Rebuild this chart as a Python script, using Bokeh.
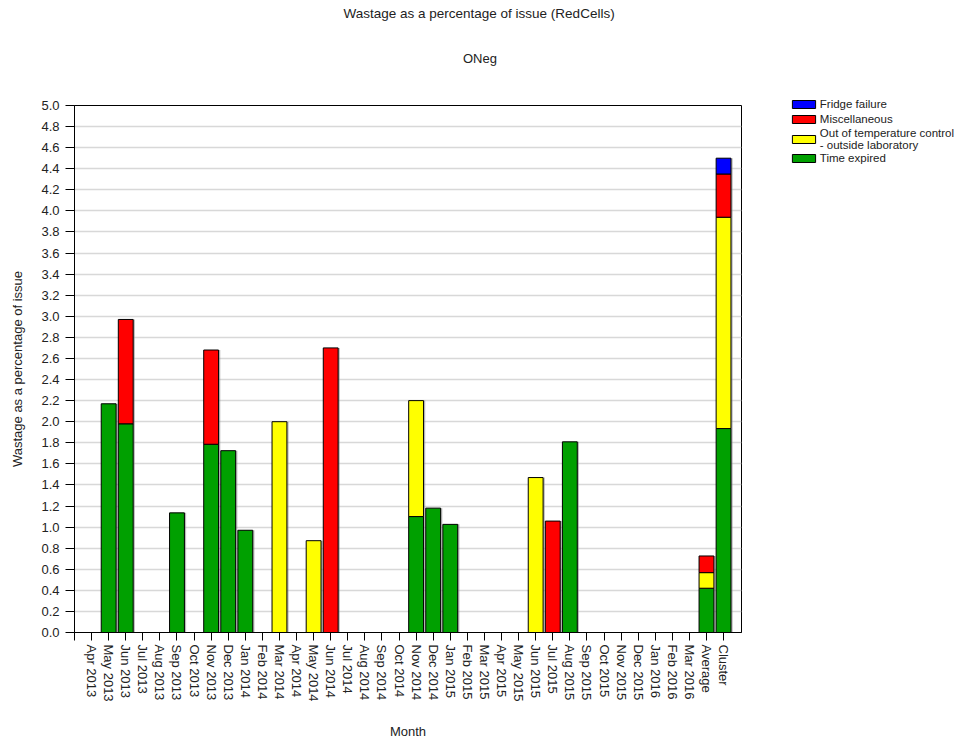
import math
from bokeh.plotting import figure
from bokeh.layouts import row, column
from bokeh.models import (Range1d, FixedTicker, NumeralTickFormatter, Legend,
                          LegendItem, Title, ColumnDataSource)
from bokeh.transform import dodge, stack
from bokeh.embed import file_html
from bokeh.resources import INLINE

categories = ["Apr 2013", "May 2013", "Jun 2013", "Jul 2013", "Aug 2013", "Sep 2013",
              "Oct 2013", "Nov 2013", "Dec 2013", "Jan 2014", "Feb 2014", "Mar 2014",
              "Apr 2014", "May 2014", "Jun 2014", "Jul 2014", "Aug 2014", "Sep 2014",
              "Oct 2014", "Nov 2014", "Dec 2014", "Jan 2015", "Feb 2015", "Mar 2015",
              "Apr 2015", "May 2015", "Jun 2015", "Jul 2015", "Aug 2015", "Sep 2015",
              "Oct 2015", "Nov 2015", "Dec 2015", "Jan 2016", "Feb 2016", "Mar 2016",
              "Average", "Cluster"]

time_expired = [0, 2.17, 1.98, 0, 0, 1.135, 0, 1.786, 1.725, 0.97, 0, 0,
                0, 0, 0, 0, 0, 0, 0, 1.10, 1.18, 1.026, 0, 0,
                0, 0, 0, 0, 1.809, 0, 0, 0, 0, 0, 0, 0,
                0.42, 1.935]
out_of_temp = [0, 0, 0, 0, 0, 0, 0, 0, 0, 0, 0, 2.0,
               0, 0.871, 0, 0, 0, 0, 0, 1.10, 0, 0, 0, 0,
               0, 0, 1.47, 0, 0, 0, 0, 0, 0, 0, 0, 0,
               0.148, 2.005]
miscellaneous = [0, 0, 0.99, 0, 0, 0, 0, 0.894, 0, 0, 0, 0,
                 0, 0, 2.70, 0, 0, 0, 0, 0, 0, 0, 0, 0,
                 0, 0, 0, 1.057, 0, 0, 0, 0, 0, 0, 0, 0,
                 0.158, 0.41]
fridge_failure = [0] * 37 + [0.15]

series_names = ["Time expired", "Out of temperature control\n- outside laboratory",
                "Miscellaneous", "Fridge failure"]
series_keys = ["te", "ot", "mi", "ff"]
series_colors = ["#00A000", "#FFFF00", "#FF0000", "#0000FF"]

FONT = "Liberation Sans"
TEXT_COLOR = "#222222"

MAIN_W, LEG_W, H = 775, 180, 742
TOP, BOTTOM = 105, 110

xs = list(range(len(categories)))
data = dict(x=xs, te=time_expired, ot=out_of_temp, mi=miscellaneous, ff=fridge_failure)
for k in series_keys:
    data["a_" + k] = [1 if v > 0 else 0 for v in data[k]]
src = ColumnDataSource(data)

p = figure(width=MAIN_W, height=H, output_backend="svg", toolbar_location=None,
           x_range=Range1d(-1, 38.05), y_range=Range1d(0, 5),
           min_border_left=74, min_border_right=MAIN_W - 741, min_border_top=TOP,
           min_border_bottom=BOTTOM)
p.outline_line_color = "black"
p.outline_line_width = 1

# subtle drop shadow like the original chart
p.vbar(x=dodge("x", 0.1), top=stack(*series_keys), bottom=0, width=0.87, source=src,
       fill_color="#8c8c8c", fill_alpha=0.6, line_color=None)

renderers = p.vbar_stack(series_keys, x="x", width=0.87, source=src,
                         fill_color=series_colors, line_color="black", line_width=1,
                         line_alpha=["a_" + k for k in series_keys])

# axes
p.xaxis.ticker = FixedTicker(ticks=[-1] + xs)
overrides = {i: c for i, c in enumerate(categories)}
overrides[-1] = ""
p.xaxis.major_label_overrides = overrides
p.xaxis.major_label_orientation = -math.pi / 2
p.xaxis.minor_tick_line_color = None
p.xaxis.major_tick_out = 8
p.xaxis.major_tick_in = 0
p.xaxis.major_label_standoff = 4
p.xaxis.axis_label = "Month"
p.xaxis.axis_label_standoff = 19

p.yaxis.ticker = FixedTicker(ticks=[round(i * 0.2, 1) for i in range(26)])
p.yaxis.formatter = NumeralTickFormatter(format="0.0")
p.yaxis.minor_tick_line_color = None
p.yaxis.major_tick_out = 9
p.yaxis.major_tick_in = 0
p.yaxis.major_label_standoff = 6
p.yaxis.axis_label = "Wastage as a percentage of issue"
p.yaxis.axis_label_standoff = 13

for ax in (p.xaxis, p.yaxis):
    ax.axis_line_color = "black"
    ax.major_tick_line_color = "black"
    ax.major_label_text_font = FONT
    ax.major_label_text_font_size = "13px"
    ax.major_label_text_color = TEXT_COLOR
    ax.axis_label_text_font = FONT
    ax.axis_label_text_font_size = "13px"
    ax.axis_label_text_font_style = "normal"
    ax.axis_label_text_color = TEXT_COLOR

p.xgrid.grid_line_color = None
p.ygrid.grid_line_color = "#d8d8d8"
p.ygrid.grid_line_width = 1.5

# titles (stacked outward from the frame: spacer, subtitle, spacer, title)
def add_title(text, size, standoff, offset):
    t = Title(text=text, align="left", offset=offset, standoff=standoff,
              vertical_align="middle", text_font=FONT, text_font_size=size,
              text_font_style="normal", text_color=TEXT_COLOR)
    p.add_layout(t, "above")

add_title(" ", "13px", 21.5, 0)
add_title("ONeg", "13px", 0, 388.4)
add_title(" ", "13px", 5.9, 0)
add_title("Wastage as a percentage of issue (RedCells)", "13.5px", 9.1, 269)

# legend panel: a separate borderless figure to the right of the chart
pl = figure(width=LEG_W, height=H, output_backend="svg", toolbar_location=None,
            x_range=Range1d(0, 1), y_range=Range1d(0, 1),
            min_border_left=0, min_border_right=0, min_border_top=40,
            min_border_bottom=BOTTOM)
pl.axis.visible = False
pl.grid.visible = False
pl.outline_line_color = None
pl.background_fill_alpha = 0
pl.border_fill_alpha = 0

legend_renderers = []
for c in series_colors:
    r = pl.vbar(x=[-10], top=[-10], bottom=[-11], width=0.5, fill_color=c,
                line_color="black", line_width=1)
    r.visible = False
    legend_renderers.append(r)

LEG_TOP = 95.5     # legend top in page pixels
LEG_H = 70
items = [LegendItem(label=series_names[i], renderers=[legend_renderers[i]])
         for i in (3, 2, 1, 0)]
legend = Legend(items=items, location=(788.8 - MAIN_W, (H - BOTTOM) - (LEG_TOP + LEG_H)),
                padding=0, margin=0, spacing=0, glyph_width=29, glyph_height=10,
                label_height=15, label_standoff=2, label_text_font=FONT,
                label_text_font_size="11.5px", label_text_color=TEXT_COLOR,
                background_fill_alpha=0, border_line_alpha=0,
                inactive_fill_alpha=0)
pl.add_layout(legend)

layout = row(p, column(pl), spacing=0)
open("out.html", "w").write(file_html(layout, INLINE))
